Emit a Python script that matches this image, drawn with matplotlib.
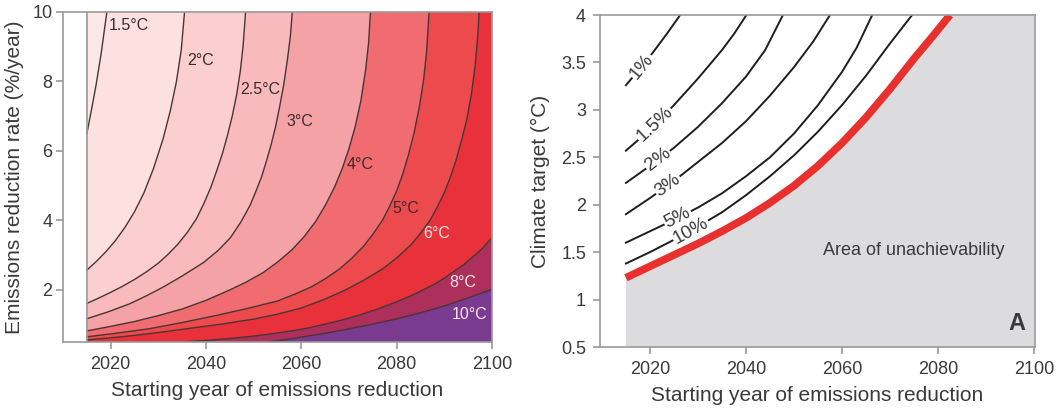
import numpy as np
import matplotlib
matplotlib.use("Agg")
import matplotlib.pyplot as plt

plt.rcParams['font.family'] = ['Liberation Sans', 'DejaVu Sans']

# ---------------- Left panel data: temperature contours ----------------
levels = [1.5, 2, 2.5, 3, 4, 5, 6, 8, 10]
level_labels = ['1.5°C', '2°C', '2.5°C', '3°C', '4°C', '5°C', '6°C', '8°C', '10°C']

c15_x = [2015, 2016, 2017, 2018, 2019.2]
c15_y = [6.5, 7.2, 7.95, 8.8, 10]
c2_x = [2015, 2017, 2019, 2021, 2023, 2025, 2027, 2029, 2031, 2032.5, 2033.8, 2034.8, 2035.5]
c2_y = [2.57, 2.82, 3.1, 3.42, 3.8, 4.25, 4.8, 5.5, 6.35, 7.15, 8.0, 8.9, 10]
c25_x = [2015, 2017.5, 2020, 2022.5, 2025, 2027.5, 2030, 2032, 2034, 2036, 2038, 2039.5,
         2041, 2042.3, 2043.5, 2044.5, 2045.5, 2046.4, 2047.2, 2047.8, 2048.3]
c25_y = [1.61, 1.765, 1.93, 2.105, 2.3, 2.52, 2.77, 3.02, 3.3, 3.64, 4.05, 4.47,
         4.95, 5.45, 5.95, 6.45, 7.0, 7.6, 8.3, 9.05, 10]
c3_x = [2015, 2019.5, 2024, 2027.5, 2031, 2035, 2039.5, 2042.5, 2045.1, 2047.3, 2049.3,
        2050.5, 2051.7, 2052.7, 2053.7, 2054.6, 2055.4, 2056.3, 2057.1, 2057.7, 2058.1]
c3_y = [1.17, 1.37, 1.6, 1.83, 2.08, 2.4, 2.79, 3.13, 3.5, 3.95, 4.45,
        4.85, 5.27, 5.72, 6.2, 6.7, 7.24, 7.9, 8.65, 9.3, 10]
c4_x = [2015, 2020, 2025, 2030, 2035, 2040, 2045, 2048.5, 2052, 2055, 2058, 2060.5,
        2063, 2065, 2067, 2068.6, 2070, 2071.3, 2072.5, 2073.5, 2074.1, 2074.5]
c4_y = [0.82, 0.95, 1.09, 1.26, 1.45, 1.7, 2.0, 2.23, 2.5, 2.8, 3.15, 3.52,
        3.97, 4.43, 4.97, 5.5, 6.07, 6.7, 7.45, 8.35, 9.1, 10]
c5_x = [2015, 2021, 2028, 2035, 2042, 2048.5, 2055, 2058.5, 2062, 2065, 2068, 2070.5,
        2073, 2075, 2077, 2078.5, 2080, 2081.3, 2082.5, 2083.7, 2084.8, 2085.7, 2086.3, 2086.8]
c5_y = [0.65, 0.75, 0.88, 1.06, 1.26, 1.46, 1.68, 1.87, 2.08, 2.32, 2.6, 2.9,
        3.25, 3.6, 4.0, 4.4, 4.85, 5.35, 5.9, 6.55, 7.3, 8.1, 8.9, 10]
c6_x = [2015, 2020, 2025, 2031.5, 2038, 2044, 2050, 2055, 2060, 2064.5, 2069, 2073, 2077,
        2080, 2083, 2085, 2087, 2088.5, 2090, 2091.3, 2092.5, 2093.6, 2094.7, 2095.7,
        2096.5, 2097, 2097.3]
c6_y = [0.56, 0.62, 0.69, 0.8, 0.92, 1.03, 1.16, 1.3, 1.48, 1.71, 1.98, 2.27, 2.6,
        2.92, 3.3, 3.63, 4.0, 4.38, 4.8, 5.26, 5.75, 6.3, 6.9, 7.65,
        8.5, 9.3, 10]
c8_x = [2035, 2040, 2045, 2050, 2055, 2058.5, 2062, 2065.5, 2069, 2072.5, 2076, 2079.5,
        2083, 2086, 2089, 2091.5, 2094, 2096, 2098, 2100]
c8_y = [0.5, 0.545, 0.6, 0.67, 0.76, 0.83, 0.92, 1.03, 1.15, 1.29, 1.45, 1.63,
        1.83, 2.03, 2.25, 2.48, 2.72, 2.95, 3.2, 3.5]
c10_x = [2053, 2056.5, 2060, 2065, 2069.3, 2074.5, 2079.8, 2085, 2090.3, 2095, 2100]
c10_y = [0.5, 0.565, 0.64, 0.75, 0.86, 1.0, 1.16, 1.34, 1.55, 1.77, 2.02]

contours_x = [c15_x, c2_x, c25_x, c3_x, c4_x, c5_x, c6_x, c8_x, c10_x]
contours_y = [c15_y, c2_y, c25_y, c3_y, c4_y, c5_y, c6_y, c8_y, c10_y]

# ---------------- Right panel data ----------------
rate_labels = ['1%', '1.5%', '2%', '3%', '5%', '10%']
r1_x = [2015, 2018, 2020.7, 2023.5, 2026.3]
r1_y = [3.26, 3.44, 3.61, 3.8, 4.0]
r15_x = [2015, 2017.5, 2020, 2022.5, 2025, 2027.5, 2030, 2032.5, 2035, 2037.5, 2040.1]
r15_y = [2.57, 2.68, 2.8, 2.92, 3.05, 3.19, 3.33, 3.48, 3.63, 3.8, 4.0]
r2_x = [2015, 2020, 2025, 2030, 2035, 2040, 2044, 2047.7]
r2_y = [2.23, 2.41, 2.6, 2.82, 3.07, 3.35, 3.63, 4.0]
r3_x = [2015, 2020, 2025, 2030, 2035, 2040, 2045, 2050, 2054, 2057.5]
r3_y = [1.9, 2.07, 2.25, 2.45, 2.65, 2.88, 3.15, 3.45, 3.72, 4.0]
r5_x = [2015, 2020, 2025, 2030, 2035, 2040, 2045, 2050, 2055, 2060, 2063, 2066.3]
r5_y = [1.6, 1.72, 1.84, 1.97, 2.12, 2.3, 2.5, 2.75, 3.05, 3.4, 3.65, 4.0]
r10_x = [2015, 2020, 2025, 2030, 2035, 2040, 2045, 2050, 2055, 2060, 2065, 2070, 2074.6]
r10_y = [1.38, 1.5, 1.63, 1.77, 1.92, 2.1, 2.3, 2.52, 2.77, 3.05, 3.36, 3.7, 4.0]
rates_x = [r1_x, r15_x, r2_x, r3_x, r5_x, r10_x]
rates_y = [r1_y, r15_y, r2_y, r3_y, r5_y, r10_y]

limit_x = [2015, 2020, 2025, 2030, 2035, 2040, 2045, 2050, 2055, 2060, 2065, 2070,
           2075, 2078.8, 2082.5]
limit_y = [1.23, 1.35, 1.47, 1.59, 1.72, 1.86, 2.02, 2.2, 2.41, 2.65, 2.92, 3.22,
           3.54, 3.77, 4.0]

start_year, end_year = 2015, 2100

# ---------------- styles ----------------
band_colors = ['#fce7e7', '#fde1e1', '#fbcfd0', '#f8babc', '#f4a2a5',
               '#f06c71', '#ed4a4d', '#e8313a', '#ad2f5b', '#7a3a8f']
label_pos = [(2023.8, 9.6), (2038.8, 8.59), (2051.4, 7.76), (2059.6, 6.85),
             (2072.4, 5.6), (2082.0, 4.35), (2088.3, 3.61), (2093.9, 2.22),
             (2095.3, 1.28)]
label_colors = ['#3a2c2c'] * 6 + ['#fbe6e6'] * 3
rate_label_x = [2018.3, 2021.0, 2021.7, 2023.75, 2025.8, 2028.5]

spine_c = '#9a9a9a'
text_c = '#3a3a3a'

fig = plt.figure(figsize=(10.6, 4.12), dpi=100)
axL = fig.add_axes([63 / 1060, 70 / 412, 429 / 1060, 330 / 412])
axR = fig.add_axes([600 / 1060, 65 / 412, 435 / 1060, 332 / 412])

# ---- left ----
ylo, yhi = 0.5, 10
axL.set_xlim(2010, 2100)
axL.set_ylim(ylo, yhi)
axL.fill([start_year, end_year, end_year, start_year], [ylo, ylo, yhi, yhi],
         color=band_colors[0], lw=0, zorder=1)
for i, (cx, cy) in enumerate(zip(contours_x, contours_y)):
    px = list(cx) + [end_year, end_year, cx[0]]
    py = list(cy) + [cy[-1], ylo, ylo]
    axL.fill(px, py, color=band_colors[i + 1], lw=0, zorder=1 + i * 0.01)
for cx, cy in zip(contours_x, contours_y):
    axL.plot(cx, cy, color='#4a3535', lw=1.0, zorder=3, solid_joinstyle='round')
for lab, (lx, ly), lc in zip(level_labels, label_pos, label_colors):
    axL.text(lx, ly, lab, ha='center', va='center', fontsize=11.5, color=lc, zorder=4)
axL.axvline(start_year, color=spine_c, lw=1.2, zorder=5)
axL.set_xticks([2020, 2040, 2060, 2080, 2100])
axL.set_yticks([2, 4, 6, 8, 10])
axL.set_xlabel('Starting year of emissions reduction', fontsize=15, color=text_c, labelpad=6)
axL.set_ylabel('Emissions reduction rate (%/year)', fontsize=15, color=text_c, labelpad=6)

# ---- right ----
axR.set_xlim(2009.6, 2100.2)
axR.set_ylim(0.5, 4)
axR.fill(list(limit_x) + [end_year, end_year, start_year],
         list(limit_y) + [4, 0.5, 0.5], color='#dcdcde', lw=0, zorder=1)
axR.plot(limit_x, limit_y, color='#e8302f', lw=5.5, solid_capstyle='butt',
         solid_joinstyle='round', zorder=3)
fig.canvas.draw()
for lab, rx, ry, lx in zip(rate_labels, rates_x, rates_y, rate_label_x):
    axR.plot(rx, ry, color='#1e1e1e', lw=1.4, zorder=2, solid_joinstyle='round')
    ly = np.interp(lx, rx, ry)
    p1 = axR.transData.transform((lx - 1.5, np.interp(lx - 1.5, rx, ry)))
    p2 = axR.transData.transform((lx + 1.5, np.interp(lx + 1.5, rx, ry)))
    ang = np.degrees(np.arctan2(p2[1] - p1[1], p2[0] - p1[0]))
    axR.text(lx, ly, lab, ha='center', va='center', rotation=ang,
             rotation_mode='anchor', fontsize=13.5, color=text_c, zorder=4,
             bbox=dict(facecolor='white', edgecolor='none', pad=0.8))
axR.text(2075, 1.52, 'Area of unachievability', ha='center', va='center',
         fontsize=13, color=text_c, zorder=4)
axR.text(0.977, 0.035, 'A', transform=axR.transAxes, ha='right', va='bottom',
         fontsize=17, fontweight='bold', color=text_c, zorder=4)
axR.set_xticks([2020, 2040, 2060, 2080, 2100])
axR.set_yticks([0.5, 1, 1.5, 2, 2.5, 3, 3.5, 4])
axR.set_yticklabels(['0.5', '1', '1.5', '2', '2.5', '3', '3.5', '4'])
axR.set_xlabel('Starting year of emissions reduction', fontsize=15, color=text_c, labelpad=6)
axR.set_ylabel('Climate target (°C)', fontsize=15, color=text_c, labelpad=8)

for ax in (axL, axR):
    for s in ax.spines.values():
        s.set_color(spine_c)
        s.set_linewidth(1.2)
        s.set_zorder(6)
    ax.tick_params(direction='out', length=5, width=1.2, color=spine_c,
                   labelsize=13, labelcolor=text_c, pad=5)
axL.tick_params(axis='y', pad=2.5)

fig.savefig('out.png', dpi=100)
